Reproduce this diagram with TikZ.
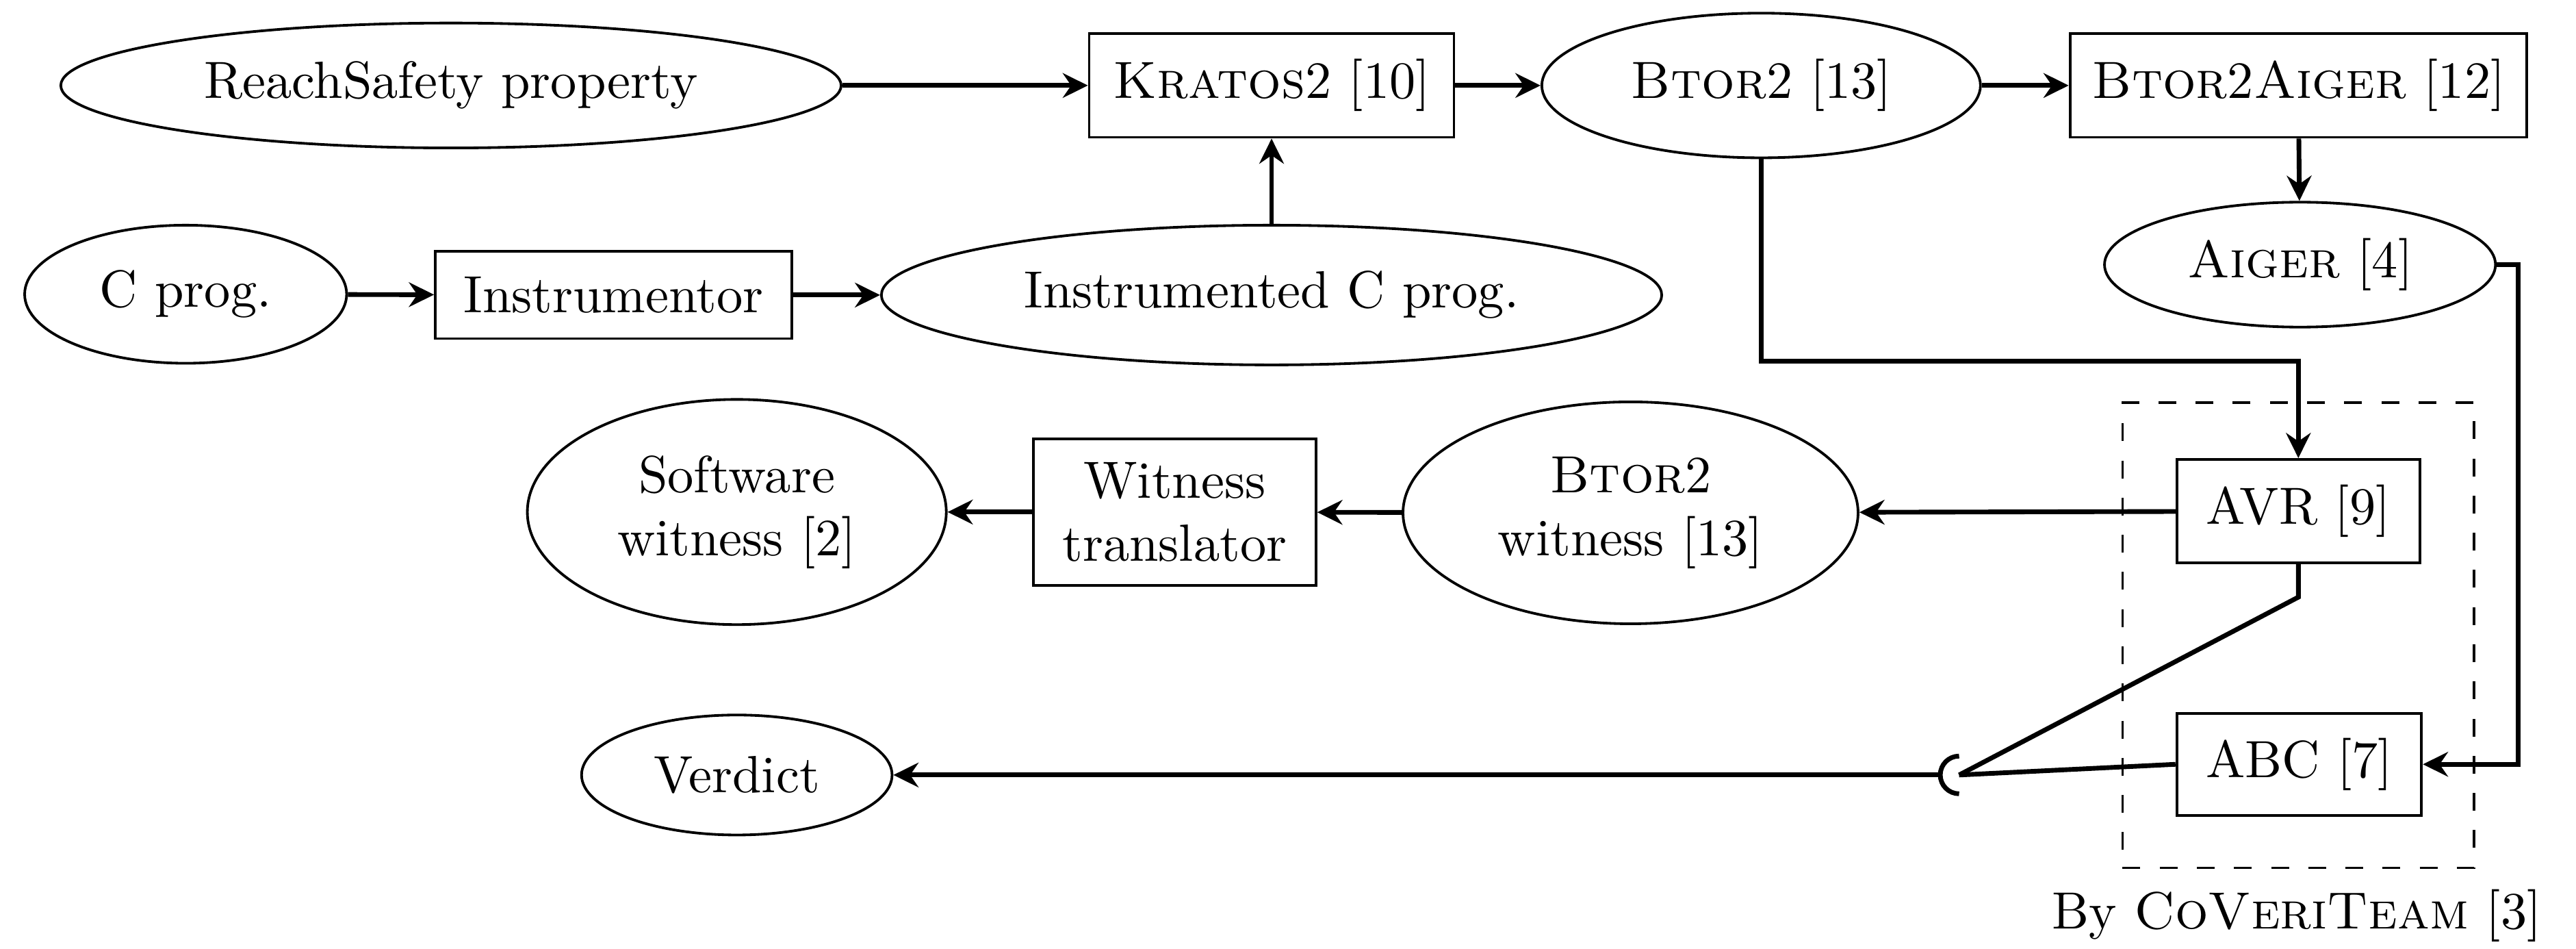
\documentclass[tikz,border=0pt]{standalone}
\usetikzlibrary{shapes.geometric,arrows.meta,calc}
\def\u{0.314pt}
\tikzset{
  ell/.style={draw,ellipse,line width=0.5pt,inner sep=0pt,align=center},
  box/.style={draw,rectangle,line width=0.5pt,inner sep=0pt,align=center},
  conn/.style={line width=0.9pt},
  arr/.style={conn,-{Stealth[length=4.8pt,width=4.7pt,inset=1.6pt]}},
}
\begin{document}
\begin{tikzpicture}[x=\u,y=-\u]
\useasboundingbox (0,0) rectangle (1568,577);
% row 1
\node[ell,minimum width=475*\u,minimum height=76*\u] (rs) at (274.5,52) {ReachSafety property};
\node[box,minimum width=222*\u,minimum height=63*\u] (kr) at (774,52) {\textsc{Kratos}2 [10]};
\node[ell,minimum width=267*\u,minimum height=88*\u] (bt) at (1072,52) {\textsc{Btor}2 [13]};
\node[box,minimum width=278*\u,minimum height=63*\u] (ba) at (1399,52) {\textsc{Btor}2\textsc{Aiger} [12]};
% row 2
\node[ell,minimum width=196*\u,minimum height=84*\u] (cp) at (113,179) {C prog.};
\node[box,minimum width=217*\u,minimum height=53*\u] (ins) at (373.5,179.5) {Instrumentor};
\node[ell,minimum width=475*\u,minimum height=85*\u] (icp) at (774,179.5) {Instrumented C prog.};
\node[ell,minimum width=238*\u,minimum height=76*\u] (ai) at (1400,161) {\textsc{Aiger} [4]};
% row 3
\node[ell,minimum width=255*\u,minimum height=137*\u] (sw) at (448.5,311.5) {Software\\witness [2]};
\node[box,minimum width=172*\u,minimum height=89*\u] (wt) at (715,311.5) {Witness\\translator};
\node[ell,minimum width=277*\u,minimum height=135*\u] (bw) at (992.5,312) {\textsc{Btor}2\\witness [13]};
\node[box,minimum width=148*\u,minimum height=63*\u] (avr) at (1399,311) {AVR [9]};
% row 4
\node[box,minimum width=149*\u,minimum height=62*\u] (abc) at (1399.5,465) {ABC [7]};
\node[ell,minimum width=189*\u,minimum height=73*\u] (vd) at (448.5,471.5) {Verdict};
% team box
\node[draw,dashed,line width=0.45pt,dash pattern=on 3.4pt off 3.7pt,minimum width=214*\u,minimum height=283*\u,inner sep=0pt] (team) at (1399,386.5) {};
\node (lab) at (1398,557) {By \textsc{CoVeriTeam} [3]};
% junction
\coordinate (j) at (1192.5,471.5);
\coordinate (jl) at (1181,471.5);
% connectors
\draw[arr] (rs) -- (kr);
\draw[arr] (kr) -- (bt);
\draw[arr] (bt) -- (ba);
\draw[arr] (ba) -- (ai);
\draw[arr] (cp) -- (ins);
\draw[arr] (ins) -- (icp);
\draw[arr] (icp) -- (kr);
\draw[arr] (bt.south) -- ++(0,123) -| (avr.north);
\draw[arr] (ai.east) -- ++(13,0) |- (abc.east);
\draw[arr] (avr) -- (bw);
\draw[arr] (bw) -- (wt);
\draw[arr] (wt) -- (sw);
\draw[conn] (avr.south) -- ++(0,20) -- (j);
\draw[conn] (abc.west) -- (j);
\draw[conn] (j) ++(0,-11.5) arc[start angle=90,end angle=270,radius=3.6pt];
\draw[arr] (jl) -- (vd.east);
\end{tikzpicture}
\end{document}
